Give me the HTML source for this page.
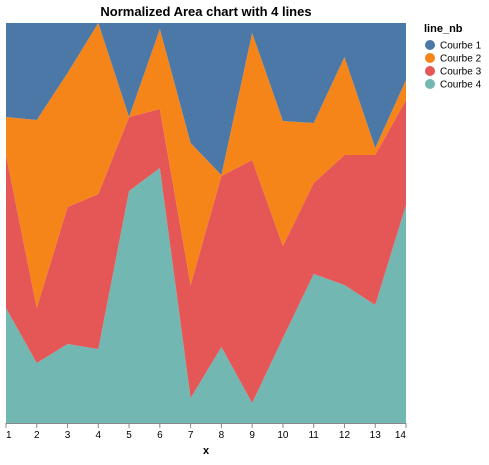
<!DOCTYPE html>
<html><head><meta charset="utf-8"><style>
body{margin:0;background:#fff;font-family:"Liberation Sans",sans-serif}
</style></head><body>
<svg id="chart" width="489" height="460" xmlns="http://www.w3.org/2000/svg"></svg>
<script>
const xs=[1,2,3,4,5,6,7,8,9,10,11,12,13,14];
const courbe4=[28.75,15,19.75,18.5,58,63.75,6.25,19,5,21.25,37.25,34.5,29.5,54.5];
const courbe3=[38.25,13.75,34.25,38.75,18.5,14.75,28.25,42.75,60.75,23,22.75,32.5,37.5,26.25];
const courbe2=[9.5,47,33.5,42.75,0,20,35.5,0.25,31.75,31.25,15,24.5,1.75,5];
const courbe1=[23.5,24.25,12.5,0,23.5,1.5,30,38,2.5,24.5,25,8.5,31.25,14.25];
const seriesNames=["Courbe 1","Courbe 2","Courbe 3","Courbe 4"];
const colors=["#4c78a8","#f58518","#e45756","#72b7b2"];
const NS="http://www.w3.org/2000/svg";
const svg=document.getElementById('chart');
const L=6,R=406,T=23,B=423;
const xScale=v=>L+(v-xs[0])/(xs[xs.length-1]-xs[0])*(R-L);
const yScale=f=>B-f*(B-T);
function mk(tag,attrs){const e=document.createElementNS(NS,tag);for(const k in attrs)e.setAttribute(k,attrs[k]);svg.appendChild(e);return e;}
const stackOrder=[courbe4,courbe3,courbe2,courbe1];
const stackNames=["Courbe 4","Courbe 3","Courbe 2","Courbe 1"];
const stackColors=["#72b7b2","#e45756","#f58518","#4c78a8"];
const totals=xs.map((_,i)=>stackOrder.reduce((s,a)=>s+a[i],0));
let base=xs.map(()=>0);
stackOrder.forEach((arr,si)=>{
  const top=base.map((b,i)=>b+arr[i]/totals[i]);
  let d='';
  xs.forEach((x,i)=>{d+=(i?'L':'M')+xScale(x)+','+yScale(top[i]);});
  for(let i=xs.length-1;i>=0;i--)d+='L'+xScale(xs[i])+','+yScale(base[i]);
  d+='Z';
  const p=mk('path',{d,fill:stackColors[si]});
  
  
  base=top;
});
const ax=mk('line',{x1:L,x2:R,y1:B+0.5,y2:B+0.5,stroke:'#888'});


xs.forEach((x,i)=>{
  const t=mk('line',{x1:xScale(x),x2:xScale(x),y1:B,y2:B+5,stroke:'#888'});
  
  
  const anchor=i===0?'start':(i===xs.length-1?'end':'middle');
  const lb=mk('text',{x:xScale(x),y:B+15,'text-anchor':anchor,'font-size':10,fill:'#000'});
  lb.textContent=x;
  
  
});
const xt=mk('text',{x:(L+R)/2,y:454,'text-anchor':'middle','font-size':11,'font-weight':'bold'});
xt.textContent='x';


const title=mk('text',{x:(L+R)/2,y:16,'text-anchor':'middle','font-size':13,'font-weight':'bold'});
title.textContent='Normalized Area chart with 4 lines';


const lt=mk('text',{x:424,y:32,'font-size':11,'font-weight':'bold'});
lt.textContent='line_nb';


seriesNames.forEach((n,i)=>{
  const y=45+i*13;
  const c=mk('circle',{cx:430,cy:y,r:5,fill:colors[i]});
  
  
  const t=mk('text',{x:440,y:y+3.5,'font-size':10});
  t.textContent=n;
  
  
});
</script>
</body></html>
